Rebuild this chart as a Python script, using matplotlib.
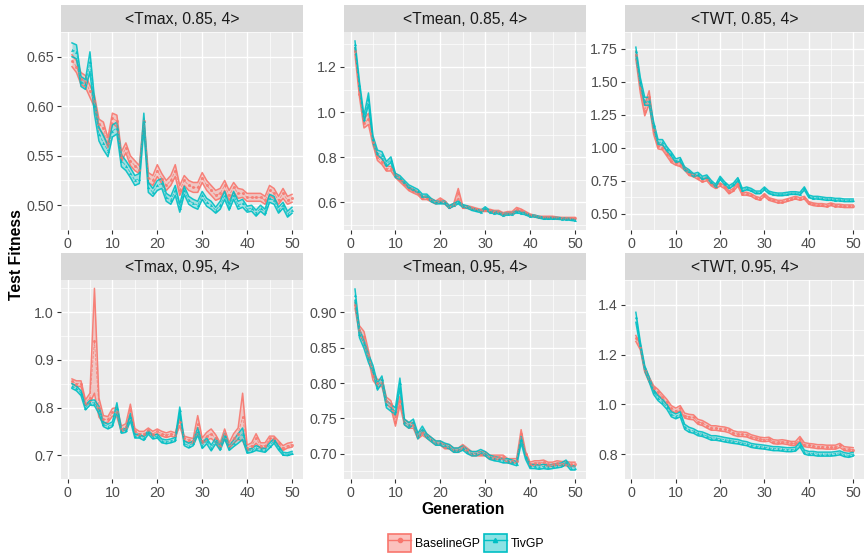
import numpy as np
import matplotlib
matplotlib.use("Agg")
import matplotlib.pyplot as plt
from matplotlib.patches import Patch
from matplotlib.lines import Line2D

plt.rcParams['font.family'] = ['Liberation Sans', 'DejaVu Sans']

generation = list(range(1, 51))
series_names = ['BaselineGP', 'TivGP']
panel_titles = ['<Tmax, 0.85, 4>', '<Tmean, 0.85, 4>', '<TWT, 0.85, 4>',
                '<Tmax, 0.95, 4>', '<Tmean, 0.95, 4>', '<TWT, 0.95, 4>']

# mean test fitness per generation
tmax85_base = [0.646, 0.640, 0.628, 0.625, 0.615, 0.605, 0.582, 0.578, 0.563, 0.588,
               0.585, 0.549, 0.558, 0.545, 0.540, 0.536, 0.585, 0.528, 0.525, 0.535,
               0.527, 0.520, 0.525, 0.535, 0.515, 0.525, 0.520, 0.518, 0.518, 0.528,
               0.520, 0.515, 0.510, 0.512, 0.520, 0.510, 0.518, 0.512, 0.512, 0.508,
               0.508, 0.508, 0.508, 0.505, 0.515, 0.512, 0.505, 0.512, 0.505, 0.507]
tmax85_tiv = [0.657, 0.655, 0.625, 0.622, 0.645, 0.600, 0.572, 0.563, 0.555, 0.575,
              0.578, 0.545, 0.540, 0.533, 0.525, 0.527, 0.585, 0.518, 0.513, 0.520,
              0.522, 0.508, 0.505, 0.515, 0.497, 0.515, 0.505, 0.502, 0.500, 0.510,
              0.503, 0.500, 0.495, 0.500, 0.510, 0.498, 0.510, 0.500, 0.502, 0.496,
              0.497, 0.492, 0.497, 0.493, 0.507, 0.505, 0.495, 0.500, 0.491, 0.495]
tmean85_base = [1.27, 1.08, 0.95, 0.97, 0.87, 0.80, 0.78, 0.75, 0.75, 0.72,
                0.70, 0.68, 0.66, 0.65, 0.64, 0.62, 0.62, 0.61, 0.60, 0.61,
                0.60, 0.58, 0.59, 0.64, 0.58, 0.58, 0.575, 0.57, 0.565, 0.565,
                0.565, 0.56, 0.56, 0.55, 0.555, 0.555, 0.57, 0.565, 0.555, 0.545,
                0.54, 0.535, 0.535, 0.535, 0.535, 0.532, 0.53, 0.53, 0.53, 0.53]
tmean85_tiv = [1.30, 1.12, 0.97, 1.06, 0.88, 0.82, 0.81, 0.77, 0.79, 0.72,
               0.71, 0.69, 0.67, 0.66, 0.65, 0.63, 0.63, 0.61, 0.60, 0.60,
               0.60, 0.58, 0.59, 0.60, 0.585, 0.58, 0.57, 0.565, 0.56, 0.575,
               0.56, 0.555, 0.555, 0.545, 0.55, 0.55, 0.56, 0.555, 0.55, 0.54,
               0.54, 0.535, 0.53, 0.53, 0.53, 0.53, 0.528, 0.527, 0.525, 0.522]
twt85_base = [1.70, 1.45, 1.28, 1.38, 1.13, 1.01, 1.00, 0.95, 0.90, 0.88,
              0.87, 0.84, 0.80, 0.79, 0.77, 0.75, 0.76, 0.72, 0.70, 0.72,
              0.70, 0.66, 0.68, 0.72, 0.65, 0.65, 0.64, 0.62, 0.61, 0.64,
              0.61, 0.60, 0.59, 0.59, 0.60, 0.61, 0.62, 0.61, 0.62, 0.58,
              0.57, 0.565, 0.565, 0.56, 0.57, 0.56, 0.56, 0.555, 0.555, 0.555]
twt85_tiv = [1.73, 1.50, 1.35, 1.35, 1.17, 1.04, 1.04, 0.99, 0.95, 0.90,
             0.91, 0.84, 0.82, 0.79, 0.80, 0.77, 0.78, 0.74, 0.71, 0.77,
             0.73, 0.70, 0.72, 0.76, 0.68, 0.69, 0.68, 0.66, 0.66, 0.69,
             0.66, 0.65, 0.645, 0.645, 0.65, 0.655, 0.655, 0.65, 0.69, 0.63,
             0.62, 0.62, 0.615, 0.61, 0.61, 0.605, 0.605, 0.60, 0.60, 0.60]
tmax95_base = [0.855, 0.850, 0.850, 0.810, 0.820, 0.940, 0.800, 0.775, 0.775, 0.790,
               0.790, 0.755, 0.760, 0.795, 0.750, 0.745, 0.745, 0.752, 0.745, 0.750,
               0.745, 0.742, 0.745, 0.742, 0.770, 0.735, 0.732, 0.730, 0.765, 0.730,
               0.740, 0.745, 0.735, 0.720, 0.745, 0.720, 0.735, 0.745, 0.780, 0.715,
               0.720, 0.735, 0.720, 0.720, 0.735, 0.735, 0.725, 0.715, 0.720, 0.722]
tmax95_tiv = [0.845, 0.840, 0.830, 0.800, 0.810, 0.810, 0.795, 0.765, 0.760, 0.765,
              0.800, 0.750, 0.752, 0.780, 0.740, 0.740, 0.735, 0.748, 0.738, 0.740,
              0.730, 0.728, 0.730, 0.733, 0.795, 0.725, 0.720, 0.725, 0.750, 0.720,
              0.730, 0.715, 0.730, 0.715, 0.740, 0.715, 0.725, 0.735, 0.745, 0.708,
              0.710, 0.715, 0.712, 0.710, 0.720, 0.730, 0.715, 0.703, 0.702, 0.705]
tmean95_base = [0.910, 0.875, 0.865, 0.840, 0.810, 0.800, 0.800, 0.775, 0.770, 0.745,
                0.775, 0.745, 0.740, 0.740, 0.725, 0.730, 0.725, 0.720, 0.715, 0.715,
                0.710, 0.710, 0.705, 0.705, 0.710, 0.705, 0.700, 0.700, 0.700, 0.700,
                0.695, 0.695, 0.695, 0.695, 0.690, 0.690, 0.690, 0.728, 0.700, 0.685,
                0.687, 0.687, 0.688, 0.685, 0.685, 0.687, 0.686, 0.686, 0.685, 0.685]
tmean95_tiv = [0.925, 0.870, 0.855, 0.835, 0.820, 0.795, 0.805, 0.770, 0.765, 0.760,
               0.800, 0.745, 0.740, 0.745, 0.725, 0.735, 0.725, 0.720, 0.715, 0.715,
               0.712, 0.710, 0.705, 0.705, 0.708, 0.703, 0.700, 0.700, 0.703, 0.700,
               0.695, 0.693, 0.692, 0.690, 0.690, 0.688, 0.686, 0.720, 0.695, 0.682,
               0.682, 0.681, 0.682, 0.681, 0.682, 0.683, 0.684, 0.688, 0.680, 0.680]
twt95_base = [1.265, 1.230, 1.140, 1.100, 1.065, 1.050, 1.030, 1.010, 0.985, 0.975,
              0.985, 0.955, 0.950, 0.948, 0.930, 0.925, 0.915, 0.905, 0.905, 0.902,
              0.900, 0.895, 0.885, 0.880, 0.880, 0.878, 0.870, 0.865, 0.860, 0.858,
              0.860, 0.850, 0.848, 0.850, 0.847, 0.843, 0.843, 0.862, 0.838, 0.835,
              0.833, 0.830, 0.830, 0.828, 0.828, 0.828, 0.835, 0.822, 0.820, 0.818]
twt95_tiv = [1.350, 1.240, 1.145, 1.100, 1.050, 1.025, 1.010, 0.990, 0.960, 0.952,
             0.960, 0.910, 0.898, 0.893, 0.883, 0.880, 0.873, 0.865, 0.865, 0.862,
             0.858, 0.855, 0.852, 0.850, 0.845, 0.842, 0.835, 0.832, 0.830, 0.828,
             0.825, 0.822, 0.822, 0.820, 0.818, 0.818, 0.820, 0.838, 0.808, 0.803,
             0.803, 0.800, 0.800, 0.800, 0.800, 0.802, 0.805, 0.798, 0.795, 0.800]

# half width of the confidence band
tmax85_base_ci = [0.006, 0.006, 0.006, 0.006, 0.006, 0.006, 0.005, 0.006, 0.005, 0.005,
                  0.006, 0.005, 0.005, 0.005, 0.005, 0.004, 0.003, 0.005, 0.005, 0.006,
                  0.005, 0.005, 0.005, 0.006, 0.005, 0.005, 0.005, 0.005, 0.005, 0.005,
                  0.005, 0.005, 0.005, 0.005, 0.005, 0.005, 0.005, 0.005, 0.004, 0.004,
                  0.004, 0.004, 0.004, 0.004, 0.005, 0.005, 0.004, 0.005, 0.004, 0.004]
tmax85_tiv_ci = [0.007, 0.007, 0.005, 0.005, 0.010, 0.008, 0.007, 0.007, 0.006, 0.006,
                 0.006, 0.006, 0.005, 0.005, 0.005, 0.005, 0.008, 0.005, 0.004, 0.005,
                 0.005, 0.004, 0.004, 0.005, 0.004, 0.004, 0.004, 0.004, 0.004, 0.004,
                 0.004, 0.004, 0.003, 0.004, 0.004, 0.003, 0.004, 0.004, 0.004, 0.003,
                 0.003, 0.003, 0.003, 0.003, 0.004, 0.004, 0.003, 0.003, 0.003, 0.003]
tmean85_base_ci = [0.015, 0.014, 0.020, 0.025, 0.015, 0.014, 0.012, 0.011, 0.010, 0.010,
                   0.009, 0.008, 0.008, 0.008, 0.007, 0.007, 0.007, 0.007, 0.007, 0.010,
                   0.007, 0.006, 0.006, 0.022, 0.006, 0.006, 0.006, 0.005, 0.005, 0.005,
                   0.005, 0.005, 0.005, 0.005, 0.005, 0.005, 0.008, 0.006, 0.005, 0.004,
                   0.004, 0.004, 0.004, 0.004, 0.004, 0.004, 0.004, 0.004, 0.004, 0.004]
tmean85_tiv_ci = [0.015, 0.014, 0.015, 0.025, 0.015, 0.012, 0.015, 0.011, 0.012, 0.009,
                  0.009, 0.008, 0.008, 0.008, 0.008, 0.007, 0.007, 0.007, 0.006, 0.006,
                  0.006, 0.006, 0.006, 0.006, 0.006, 0.005, 0.005, 0.005, 0.005, 0.006,
                  0.005, 0.005, 0.005, 0.005, 0.005, 0.005, 0.005, 0.005, 0.005, 0.004,
                  0.004, 0.004, 0.004, 0.004, 0.004, 0.004, 0.004, 0.004, 0.004, 0.004]
twt85_base_ci = [0.030, 0.035, 0.040, 0.050, 0.030, 0.020, 0.018, 0.016, 0.015, 0.014,
                 0.014, 0.013, 0.012, 0.012, 0.012, 0.012, 0.012, 0.011, 0.011, 0.012,
                 0.011, 0.011, 0.011, 0.012, 0.011, 0.011, 0.010, 0.010, 0.010, 0.011,
                 0.010, 0.010, 0.010, 0.010, 0.010, 0.010, 0.010, 0.010, 0.010, 0.010,
                 0.010, 0.010, 0.010, 0.010, 0.010, 0.010, 0.010, 0.010, 0.010, 0.010]
twt85_tiv_ci = [0.030, 0.030, 0.030, 0.030, 0.025, 0.020, 0.020, 0.016, 0.015, 0.014,
                0.014, 0.013, 0.012, 0.012, 0.012, 0.012, 0.012, 0.011, 0.011, 0.012,
                0.011, 0.011, 0.011, 0.012, 0.011, 0.011, 0.010, 0.010, 0.010, 0.011,
                0.010, 0.010, 0.010, 0.010, 0.010, 0.010, 0.010, 0.010, 0.012, 0.010,
                0.010, 0.010, 0.010, 0.010, 0.010, 0.010, 0.010, 0.010, 0.010, 0.010]
tmax95_base_ci = [0.005, 0.006, 0.006, 0.006, 0.010, 0.110, 0.020, 0.008, 0.006, 0.008,
                  0.010, 0.006, 0.006, 0.012, 0.006, 0.005, 0.005, 0.005, 0.005, 0.005,
                  0.005, 0.005, 0.005, 0.005, 0.008, 0.005, 0.005, 0.005, 0.018, 0.006,
                  0.008, 0.010, 0.008, 0.006, 0.010, 0.006, 0.010, 0.012, 0.050, 0.006,
                  0.006, 0.010, 0.006, 0.006, 0.005, 0.005, 0.005, 0.005, 0.005, 0.005]
tmax95_tiv_ci = [0.005, 0.005, 0.005, 0.005, 0.005, 0.006, 0.008, 0.005, 0.005, 0.005,
                 0.010, 0.004, 0.004, 0.008, 0.004, 0.004, 0.004, 0.004, 0.004, 0.004,
                 0.004, 0.004, 0.004, 0.004, 0.006, 0.005, 0.005, 0.005, 0.008, 0.006,
                 0.006, 0.006, 0.006, 0.005, 0.006, 0.005, 0.007, 0.010, 0.012, 0.004,
                 0.004, 0.005, 0.004, 0.004, 0.005, 0.005, 0.004, 0.003, 0.003, 0.003]
tmean95_base_ci = [0.004, 0.006, 0.008, 0.006, 0.006, 0.005, 0.005, 0.005, 0.005, 0.006,
                   0.006, 0.004, 0.004, 0.004, 0.004, 0.004, 0.003, 0.003, 0.003, 0.003,
                   0.003, 0.003, 0.003, 0.003, 0.003, 0.003, 0.003, 0.003, 0.003, 0.003,
                   0.003, 0.003, 0.003, 0.003, 0.003, 0.003, 0.003, 0.006, 0.003, 0.003,
                   0.003, 0.003, 0.003, 0.003, 0.003, 0.003, 0.003, 0.003, 0.003, 0.003]
tmean95_tiv_ci = [0.008, 0.006, 0.006, 0.006, 0.005, 0.005, 0.005, 0.005, 0.005, 0.005,
                  0.007, 0.004, 0.004, 0.004, 0.004, 0.004, 0.003, 0.003, 0.003, 0.003,
                  0.003, 0.003, 0.003, 0.003, 0.003, 0.003, 0.003, 0.003, 0.003, 0.003,
                  0.003, 0.003, 0.003, 0.003, 0.003, 0.003, 0.003, 0.005, 0.003, 0.003,
                  0.003, 0.003, 0.003, 0.003, 0.003, 0.003, 0.003, 0.003, 0.003, 0.003]
twt95_base_ci = [0.012, 0.010, 0.010, 0.010, 0.010, 0.010, 0.010, 0.010, 0.010, 0.010,
                 0.010, 0.010, 0.010, 0.010, 0.010, 0.010, 0.010, 0.009, 0.009, 0.009,
                 0.009, 0.009, 0.009, 0.009, 0.009, 0.009, 0.008, 0.008, 0.008, 0.008,
                 0.008, 0.008, 0.008, 0.008, 0.008, 0.008, 0.008, 0.009, 0.008, 0.008,
                 0.008, 0.008, 0.008, 0.008, 0.008, 0.008, 0.008, 0.008, 0.008, 0.008]
twt95_tiv_ci = [0.020, 0.012, 0.010, 0.010, 0.010, 0.010, 0.010, 0.010, 0.010, 0.010,
                0.010, 0.010, 0.010, 0.009, 0.009, 0.009, 0.009, 0.009, 0.009, 0.009,
                0.009, 0.009, 0.009, 0.009, 0.008, 0.008, 0.008, 0.008, 0.008, 0.008,
                0.008, 0.008, 0.008, 0.008, 0.008, 0.008, 0.008, 0.009, 0.008, 0.008,
                0.008, 0.008, 0.008, 0.008, 0.008, 0.008, 0.008, 0.008, 0.008, 0.008]

y_ticks = [
    [0.50, 0.55, 0.60, 0.65],
    [0.6, 0.8, 1.0, 1.2],
    [0.50, 0.75, 1.00, 1.25, 1.50, 1.75],
    [0.7, 0.8, 0.9, 1.0],
    [0.70, 0.75, 0.80, 0.85, 0.90],
    [0.8, 1.0, 1.2, 1.4],
]
y_labels = [
    ['0.50', '0.55', '0.60', '0.65'],
    ['0.6', '0.8', '1.0', '1.2'],
    ['0.50', '0.75', '1.00', '1.25', '1.50', '1.75'],
    ['0.7', '0.8', '0.9', '1.0'],
    ['0.70', '0.75', '0.80', '0.85', '0.90'],
    ['0.8', '1.0', '1.2', '1.4'],
]
x_ticks = [0, 10, 20, 30, 40, 50]

panels = [
    [(tmax85_base, tmax85_base_ci), (tmax85_tiv, tmax85_tiv_ci)],
    [(tmean85_base, tmean85_base_ci), (tmean85_tiv, tmean85_tiv_ci)],
    [(twt85_base, twt85_base_ci), (twt85_tiv, twt85_tiv_ci)],
    [(tmax95_base, tmax95_base_ci), (tmax95_tiv, tmax95_tiv_ci)],
    [(tmean95_base, tmean95_base_ci), (tmean95_tiv, tmean95_tiv_ci)],
    [(twt95_base, twt95_base_ci), (twt95_tiv, twt95_tiv_ci)],
]

colors = ['#F8766D', '#00BFC4']
markers = ['o', '^']

W, H = 865, 557
fig = plt.figure(figsize=(W / 100, H / 100), dpi=100)

col_x = [(61, 303), (344, 586), (625, 864)]
row_y = [(32, 230), (280, 479)]
strip_h = 27

for i, title in enumerate(panel_titles):
    r, c = divmod(i, 3)
    x0, x1 = col_x[c]
    y0, y1 = row_y[r]
    ax = fig.add_axes([x0 / W, 1 - y1 / H, (x1 - x0) / W, (y1 - y0) / H])
    ax.set_facecolor('#EBEBEB')
    for s in ax.spines.values():
        s.set_visible(False)

    x = np.array(generation)
    for k, (mean, ci) in enumerate(panels[i]):
        m = np.array(mean)
        h = np.array(ci)
        col = colors[k]
        ax.fill_between(x, m - h, m + h, color=col, alpha=0.3, lw=0, zorder=3)
        ax.plot(x, m + h, color=col, lw=1.1, alpha=0.9, zorder=4)
        ax.plot(x, m - h, color=col, lw=1.1, alpha=0.9, zorder=4)
        ax.plot(x, m, color=col, lw=0.6, ls='--', alpha=0.8, marker=markers[k],
                ms=2.2, mew=0, zorder=5)

    ax.margins(x=0.05, y=0.05)
    ax.set_xticks(x_ticks)
    ax.set_xticks([5, 15, 25, 35, 45], minor=True)
    ax.set_yticks(y_ticks[i])
    ax.set_yticklabels(y_labels[i])
    yt = y_ticks[i]
    step = yt[1] - yt[0]
    ax.set_yticks([t + step / 2 for t in [yt[0] - step] + yt], minor=True)
    ax.grid(which='major', color='white', lw=1.0, zorder=0)
    ax.grid(which='minor', color='white', lw=0.5, zorder=0)
    ax.set_axisbelow(True)
    ax.tick_params(which='major', length=3, width=0.8, color='#333333',
                   labelsize=10.3, labelcolor='#4D4D4D', pad=2)
    ax.tick_params(which='minor', length=0)

    sax = fig.add_axes([x0 / W, 1 - y0 / H, (x1 - x0) / W, strip_h / H])
    sax.set_facecolor('#D9D9D9')
    sax.set_xticks([])
    sax.set_yticks([])
    for s in sax.spines.values():
        s.set_visible(False)
    sax.text(0.5, 0.48, title, ha='center', va='center', fontsize=11.3,
             color='#1A1A1A', transform=sax.transAxes)

fig.text(17 / W, 1 - 255 / H, 'Test Fitness', rotation=90, ha='center', va='center',
         fontsize=11.3, fontweight='bold')
fig.text(463 / W, 1 - 509 / H, 'Generation', ha='center', va='center',
         fontsize=11.3, fontweight='bold')

handles = []
for k in range(2):
    patch = Patch(facecolor=colors[k], alpha=0.45, edgecolor='none')
    box = Patch(facecolor='none', edgecolor=colors[k], lw=1.2)
    line = Line2D([], [], color=colors[k], lw=1, marker=markers[k], ms=3)
    handles.append((patch, box, line))
fig.legend(handles, series_names, loc='center', bbox_to_anchor=(466 / W, 1 - 543 / H),
           ncol=2, frameon=False, fontsize=8.8, handlelength=1.9, handleheight=1.9,
           handletextpad=0.3, columnspacing=0.3)

fig.savefig('out.png', dpi=100)
